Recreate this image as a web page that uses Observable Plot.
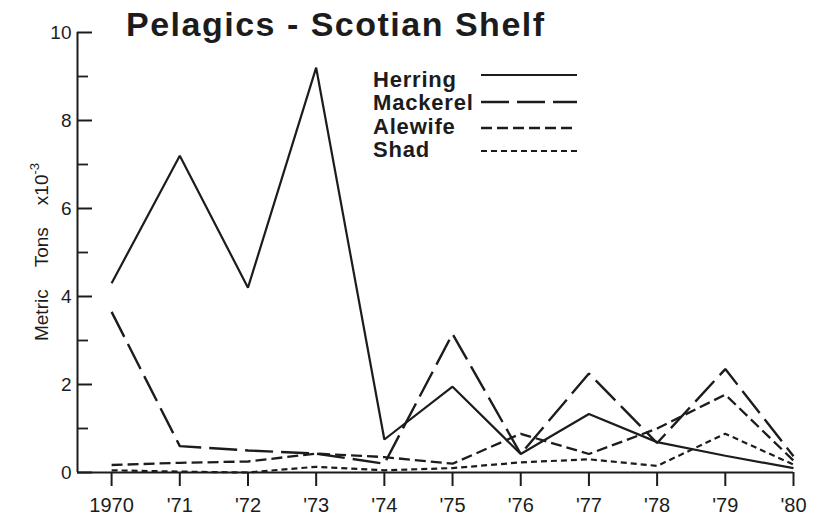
<!DOCTYPE html>
<html>
<head>
<meta charset="utf-8">
<script src="https://cdn.jsdelivr.net/npm/d3@7"></script>
<script src="https://cdn.jsdelivr.net/npm/@observablehq/plot@0.6"></script>
<style>
  html, body { margin: 0; padding: 0; background: #fff; }
  #chart { width: 816px; height: 521px; }
</style>
</head>
<body>
<div id="chart"></div>
<script>
// ---- data ----
const years    = [1970, 1971, 1972, 1973, 1974, 1975, 1976, 1977, 1978, 1979, 1980];
const herring  = [4.3, 7.2, 4.2, 9.2, 0.75, 1.95, 0.42, 1.33, 0.69, 0.38, 0.1];
const mackerel = [3.65, 0.6, 0.5, 0.43, 0.2, 3.15, 0.42, 2.25, 0.67, 2.35, 0.37];
const alewife  = [0.17, 0.22, 0.25, 0.43, 0.35, 0.2, 0.88, 0.42, 1.0, 1.77, 0.27];
const shad     = [0.05, 0.02, 0, 0.13, 0.05, 0.1, 0.23, 0.3, 0.15, 0.88, 0.18];
const seriesNames = ["Herring", "Mackerel", "Alewife", "Shad"];
const xTickLabels = ["1970", "'71", "'72", "'73", "'74", "'75", "'76", "'77", "'78", "'79", "'80"];
const yMajor = [0, 2, 4, 6, 8, 10];
const yMinor = [1, 3, 5, 7, 9];
const titleText = "Pelagics - Scotian Shelf";

// ---- styles ----
const ink = "#1c1c1c";
const dashes = {Herring: null, Mackerel: "28,8", Alewife: "11,5", Shad: "6,4"};
const widths = {Herring: 2.2, Mackerel: 2.4, Alewife: 2.3, Shad: 2.2};
const xDomain = [1969.5, 1980];
const W = 816, H = 521, mL = 77, mR = 23, mT = 32, mB = 49;
const frameW = W - mL - mR;

const valuesBySeries = {Herring: herring, Mackerel: mackerel, Alewife: alewife, Shad: shad};
const rows = seriesNames.map(name => years.map((yr, i) => ({series: name, year: yr, value: valuesBySeries[name][i]})));

const plot = Plot.plot({
  width: W, height: H,
  marginLeft: mL, marginRight: mR, marginTop: mT, marginBottom: mB,
  x: {domain: xDomain},
  y: {domain: [0, 10]},
  style: {fontFamily: "'Liberation Sans', Arial, sans-serif", color: ink, background: "#fff"},
  marks: [
    Plot.ruleY([0], {stroke: ink, strokeWidth: 2}),
    Plot.ruleX([xDomain[0]], {stroke: ink, strokeWidth: 2}),
    Plot.tickY(yMajor, {y: d => d, stroke: ink, strokeWidth: 2, insetRight: frameW - 15}),
    Plot.tickY(yMinor, {y: d => d, stroke: ink, strokeWidth: 1.8, insetRight: frameW - 11}),
    Plot.axisY({ticks: yMajor, tickSize: 0, tickPadding: 6, label: null, fontSize: 19}),
    Plot.axisX({ticks: years, tickFormat: (d) => xTickLabels[years.indexOf(d)], tickSize: 14, tickPadding: 11, label: null, fontSize: 20, strokeWidth: 2}),
    ...rows.map(r => Plot.line(r, {
      x: "year", y: "value",
      stroke: ink,
      strokeWidth: widths[r[0].series],
      strokeDasharray: dashes[r[0].series],
      strokeLinejoin: "miter", strokeLinecap: "butt"
    }))
  ]
});

document.getElementById("chart").appendChild(plot);

const svg = d3.select(plot);

// title
svg.append("text")
  .attr("x", 126).attr("y", 36)
  .attr("text-anchor", "start")
  .attr("font-family", "'Liberation Sans', Arial, sans-serif")
  .attr("font-weight", "bold").attr("font-size", 34)
  .attr("letter-spacing", 1.5)
  .attr("fill", ink)
  .text(titleText);

// y-axis label
const yl = svg.append("text")
  .attr("transform", "translate(48,252) rotate(-90)")
  .attr("text-anchor", "middle")
  .attr("font-family", "'Liberation Sans', Arial, sans-serif")
  .attr("font-size", 19)
  .attr("fill", ink);
yl.append("tspan").text("Metric");
yl.append("tspan").attr("dx", 22).text("Tons");
yl.append("tspan").attr("dx", 22).text("x10");
yl.append("tspan").attr("dy", -9).attr("font-size", 13).text("-3");

// legend
const legBase = [86.5, 110, 133.5, 157];
const legLine = [75, 102, 128, 151];
const leg = svg.append("g");
seriesNames.forEach((name, i) => {
  leg.append("text")
    .attr("x", 373).attr("y", legBase[i])
    .attr("text-anchor", "start")
    .attr("font-family", "'Liberation Sans', Arial, sans-serif")
    .attr("font-weight", "bold").attr("font-size", 22)
    .attr("letter-spacing", 0.8)
    .attr("fill", ink)
    .text(name);
  leg.append("line")
    .attr("x1", 481).attr("x2", 577)
    .attr("y1", legLine[i]).attr("y2", legLine[i])
    .attr("stroke", ink)
    .attr("stroke-width", widths[name])
    .attr("stroke-dasharray", dashes[name]);
});
</script>
</body>
</html>
